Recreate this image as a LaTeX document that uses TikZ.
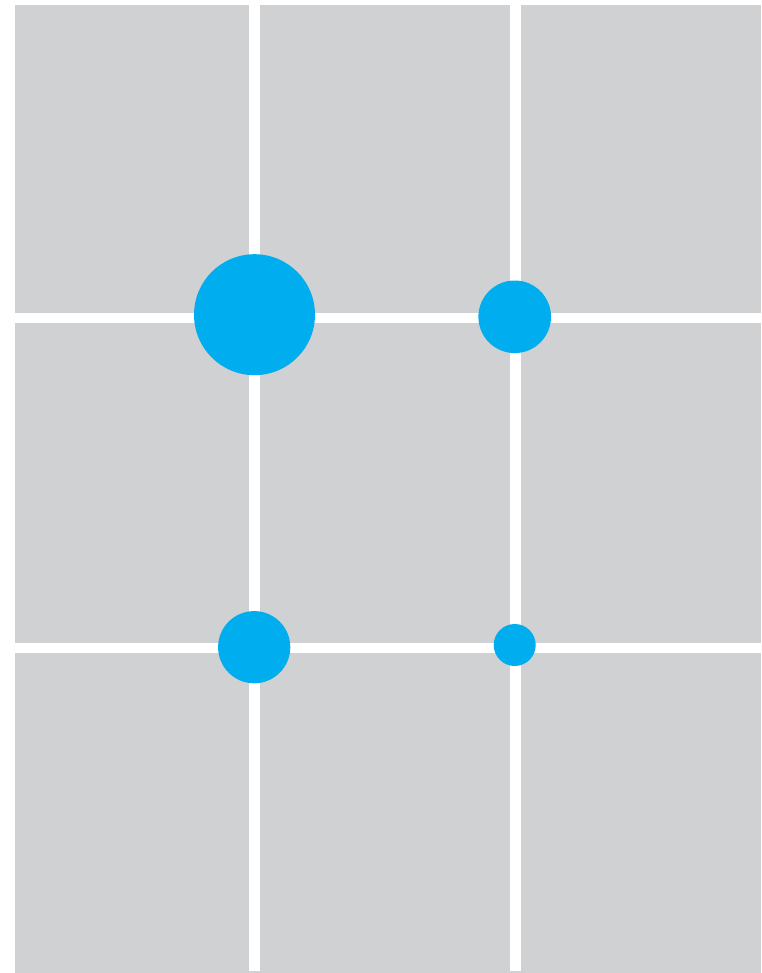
\documentclass[tikz,border=0pt]{standalone}
\usepackage{tikz}
\usetikzlibrary{positioning,calc}
\usepackage{xcolor}
\definecolor{gridgray}{RGB}{208,209,211}
\definecolor{dotblue}{RGB}{0,174,239}

\begin{document}
\begin{tikzpicture}[
    x=0.02cm,y=-0.02cm,
    guide/.style={draw=white,line width=10.6*0.02cm},
    dot/.style={fill=dotblue}
]
\useasboundingbox (0,0) rectangle (761,973);
\fill[gridgray] (15,5) rectangle (761,973);
% thirds
\draw[guide] (254.7,5) -- (254.7,971);
\draw[guide] (515.3,5) -- (515.3,971);
\draw[guide] (15,318) -- (761,318);
\draw[guide] (15,648) -- (761,648);
% intersections
\fill[dot] (254.5,314.7) circle[radius=60.5];
\fill[dot] (514.7,316.8) circle[radius=36.3];
\fill[dot] (254.2,647.2) circle[radius=36.1];
\fill[dot] (514.7,645) circle[radius=21];
\end{tikzpicture}
\end{document}
